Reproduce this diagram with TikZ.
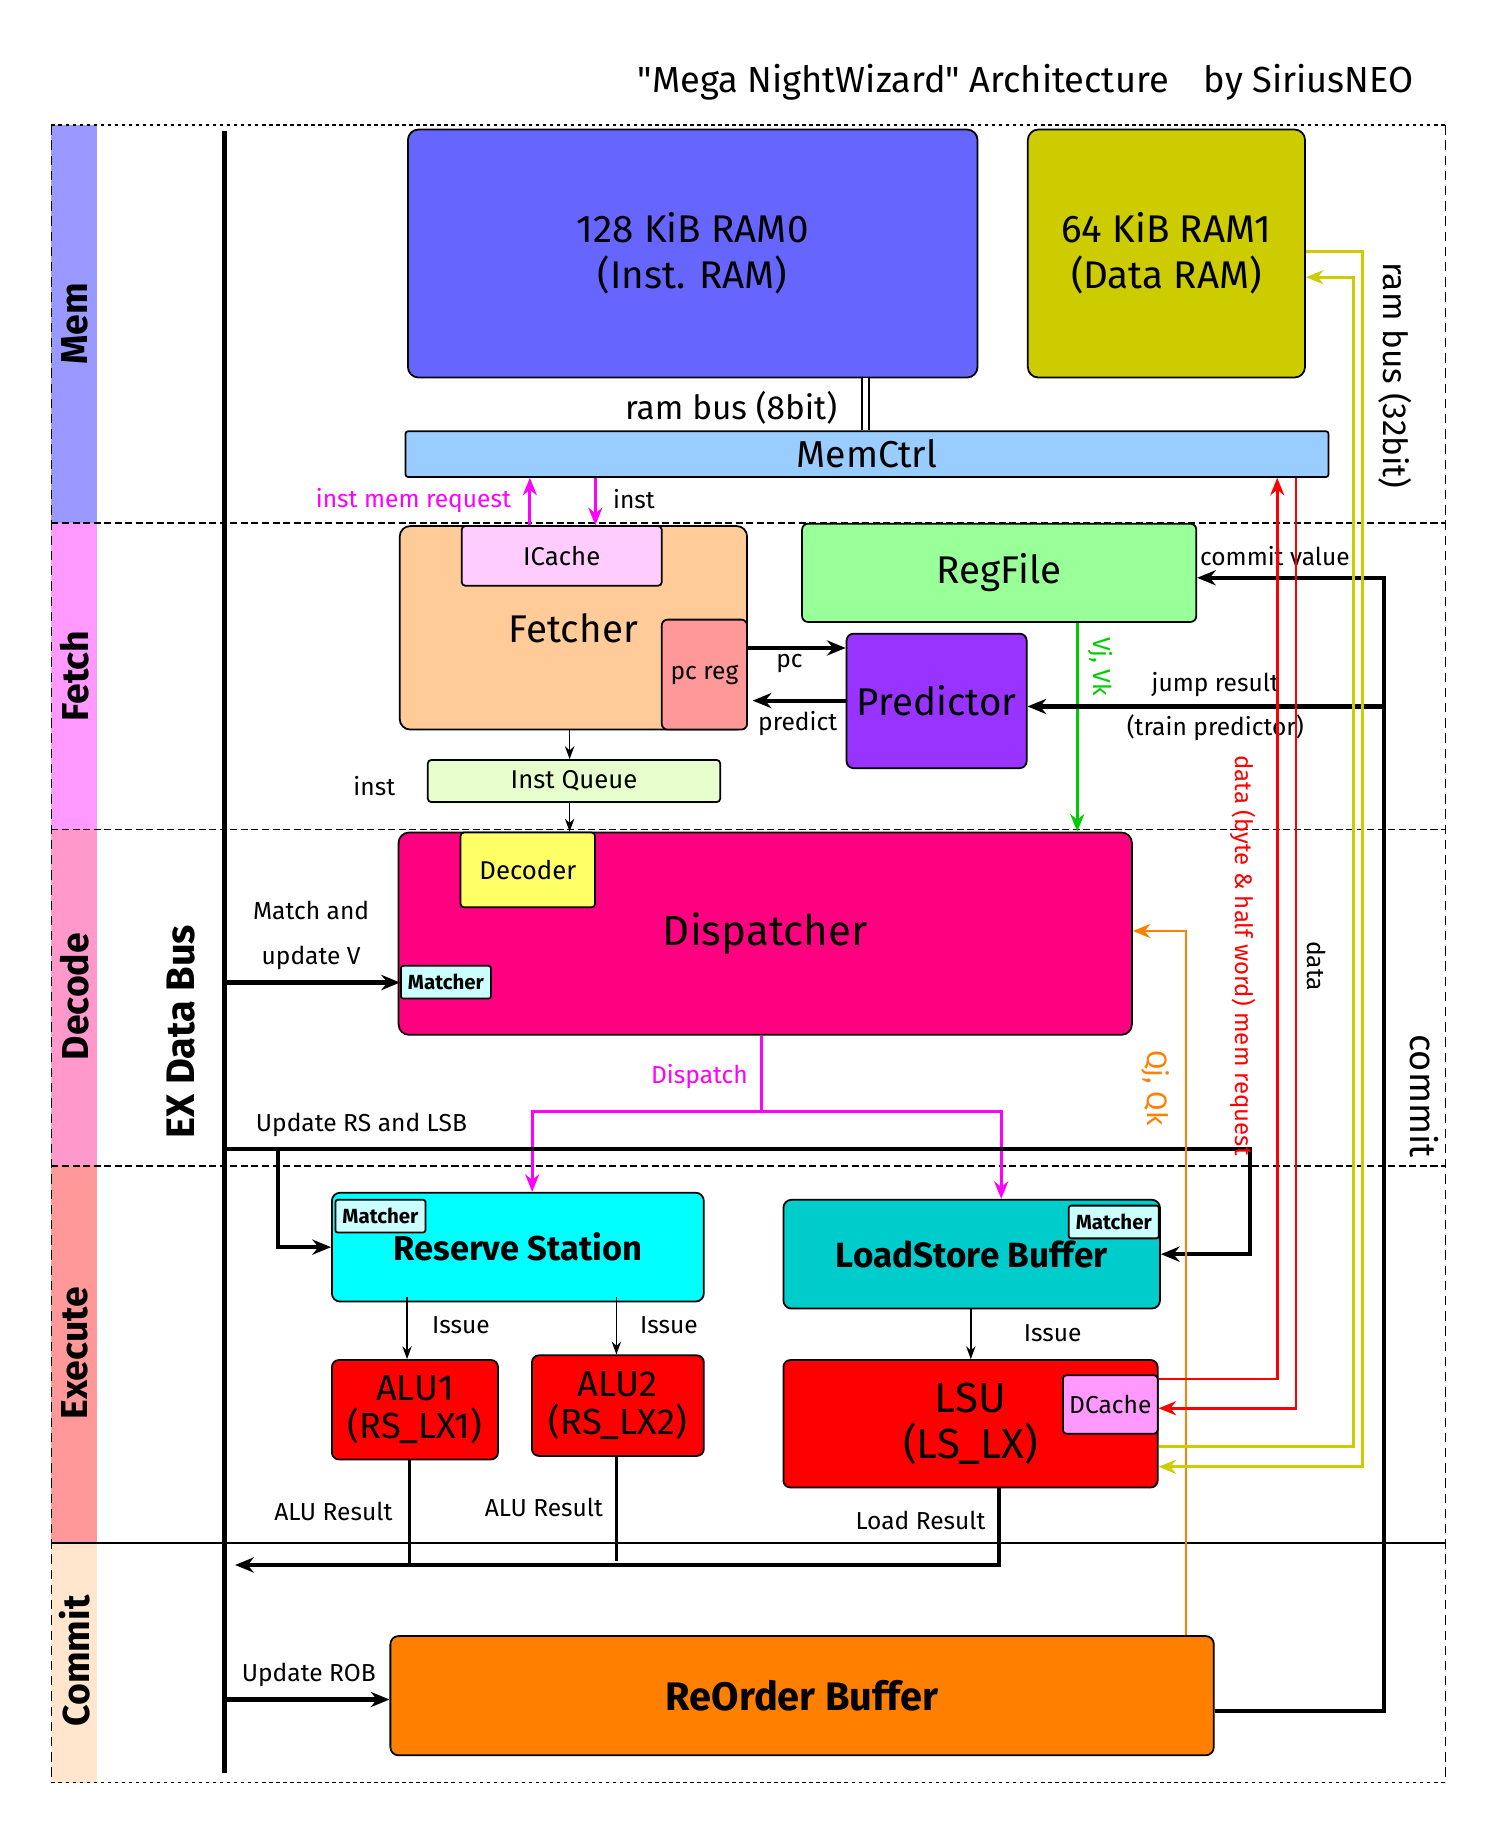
\documentclass[tikz,border=0pt]{standalone}
\usepackage{fontspec}
\setmainfont{Fira Sans}
\newfontfamily\qfont{Fira Sans}[Ligatures=ResetAll]
\usetikzlibrary{arrows.meta}
\newcommand\fsz[2]{\fontsize{#1}{#2}\selectfont}
\newcommand\sq{{\qfont\symbol{34}}}
\definecolor{cram0}{HTML}{6666FF}
\definecolor{cram1}{HTML}{CCCC00}
\definecolor{cmem}{HTML}{99CCFF}
\definecolor{cfet}{HTML}{FFCC99}
\definecolor{cicache}{HTML}{FFCCFF}
\definecolor{cpc}{HTML}{FF9999}
\definecolor{creg}{HTML}{99FF99}
\definecolor{cpred}{HTML}{9933FF}
\definecolor{ciq}{HTML}{E6FFCC}
\definecolor{cdisp}{HTML}{FF0080}
\definecolor{cdec}{HTML}{FFFF66}
\definecolor{cmatch}{HTML}{CCFFFF}
\definecolor{crs}{HTML}{00FFFF}
\definecolor{clsb}{HTML}{00CCCC}
\definecolor{calu}{HTML}{FF0000}
\definecolor{cdcache}{HTML}{FF99FF}
\definecolor{crob}{HTML}{FF8000}
\definecolor{lmem}{HTML}{9999FF}
\definecolor{lfet}{HTML}{FF99FF}
\definecolor{ldec}{HTML}{FF99CC}
\definecolor{lexe}{HTML}{FF9999}
\definecolor{lcom}{HTML}{FFE6CC}
\definecolor{cmag}{HTML}{FF00FF}
\definecolor{cgreen}{HTML}{00CC00}
\definecolor{corange}{HTML}{FF8000}
\definecolor{cyel}{HTML}{CCCC00}
\definecolor{cred}{HTML}{FF0000}
\begin{document}
\begin{tikzpicture}[x=1pt,y=-1pt,
  blk/.style={draw=black, line width=1.5pt, rounded corners=9pt, anchor=north west,
    inner sep=0pt, align=center, font=\fsz{33}{39}},
  sub/.style={blk, rounded corners=3pt, font=\fsz{22}{25}},
  mt/.style={blk, rounded corners=2pt, fill=cmatch, minimum width=77pt, minimum height=28pt, font=\fsz{17.5}{20}\bfseries},
  lbl/.style={inner sep=0pt, font=\fsz{21}{24}},
  lane/.style={inner sep=0pt, rotate=90, font=\fsz{32}{36}\bfseries},
  thkarr/.style={line width=3.5pt, -{Stealth[length=16pt,width=13pt]}},
  thinarr/.style={line width=1.3pt, -{Stealth[length=11pt,width=8pt]}},
  colarr/.style={line width=2.5pt, -{Stealth[length=15pt,width=12pt]}},
  sepline/.style={line width=1.3pt, dash pattern=on 6pt off 3pt},
]
\useasboundingbox (0,0) rectangle (1288,1568);

% title
\node[inner sep=0pt, font=\fsz{31}{34}] (title) at (877,70) {\sq Mega NightWizard\sq{} Architecture\hspace{30pt}by SiriusNEO};

% lanes
\fill[lmem] (44,107) rectangle (83,447);
\fill[lfet] (44,447) rectangle (83,709);
\fill[ldec] (44,709) rectangle (83,997);
\fill[lexe] (44,997) rectangle (83,1319);
\fill[lcom] (44,1319) rectangle (83,1524);
\node[lane] (lmemt) at (64,277) {Mem};
\node[lane] (lfett) at (64,578) {Fetch};
\node[lane] (ldect) at (64,852) {Decode};
\node[lane] (lexet) at (64,1157) {Execute};
\node[lane] (lcomt) at (64,1420) {Commit};
\draw[line width=1.4pt, dash pattern=on 3pt off 3pt] (44,107) -- (1236,107);
\draw[line width=1.4pt, dash pattern=on 3pt off 3pt] (44,1524) -- (1236,1524);
\draw[line width=1.3pt, dash pattern=on 8pt off 5pt] (44,107) -- (44,1524);
\draw[line width=1.3pt, dash pattern=on 8pt off 5pt] (1236,107) -- (1236,1524);
\draw[sepline] (44,447) -- (1236,447);
\draw[sepline] (44,709) -- (1236,709);
\draw[sepline] (44,997) -- (1236,997);
\draw[line width=1.5pt] (44,1319) -- (1236,1319);

% EX data bus
\coordinate (bustop) at (192,112);
\coordinate (busbot) at (192,1516);
\draw[line width=5pt] (bustop) -- (busbot);
\node[inner sep=0pt, rotate=90, font=\fsz{34}{38}\bfseries] (bust) at (155,882) {EX Data Bus};

% Mem
\node[blk, fill=cram0, minimum width=487pt, minimum height=212pt] (ram0) at (348,110) {128 KiB RAM0\\(Inst. RAM)};
\node[blk, fill=cram1, minimum width=237pt, minimum height=212pt] (ram1) at (878,110) {64 KiB RAM1\\(Data RAM)};
\node[blk, rounded corners=2pt, fill=cmem, minimum width=789pt, minimum height=39pt, font=\fsz{32}{36}] (memctrl) at (346,368) {MemCtrl};
\draw[double, double distance=4pt, line width=1.5pt] (740,0 |- ram0.south) -- (740,0 |- memctrl.north);
\node[lbl, font=\fsz{28.5}{32}] (rb8) at (625,349) {ram bus (8bit)};

% Fetch
\node[blk, fill=cfet, minimum width=297pt, minimum height=174pt] (fetcher) at (341,449) {Fetcher};
\node[sub, fill=cicache, minimum width=171pt, minimum height=51pt] (icache) at (394,449) {ICache};
\node[sub, fill=cpc, minimum width=73pt, minimum height=94pt, rounded corners=5pt, font=\fsz{21}{24}] (pcreg) at (565,529) {pc reg};
\node[blk, rounded corners=5pt, fill=creg, minimum width=337pt, minimum height=84pt] (regfile) at (685,447) {RegFile};
\node[blk, rounded corners=6pt, fill=cpred, minimum width=154pt, minimum height=115pt] (pred) at (723,541) {Predictor};
\node[sub, fill=ciq, minimum width=250pt, minimum height=36pt] (iq) at (365,649) {Inst Queue};

\draw[colarr, cmag] (453,0 |- fetcher.north) -- (453,0 |- memctrl.south);
\draw[colarr, cmag] (509,0 |- memctrl.south) -- (509,0 |- icache.north);
\node[lbl, anchor=east, text=cmag] (imr) at (437,428) {inst mem request};
\node[lbl, anchor=west] (instl1) at (524,427) {inst};

\draw[thkarr] (pcreg.east |- 0,554) -- (pred.west |- 0,554);
\draw[thkarr] (pred.west |- 0,599) -- ([xshift=4pt]pcreg.east |- 0,599);
\node[lbl] (pcl) at (675,567) {pc};
\node[lbl] (predl) at (682,619) {predict};

\draw[thinarr] (487,0 |- fetcher.south) -- (487,0 |- iq.north);
\node[lbl] (instl2) at (320,672) {inst};

% Decode
\node[blk, fill=cdisp, minimum width=627pt, minimum height=173pt, font=\fsz{36}{40}] (disp) at (340,711) {Dispatcher};
\node[sub, fill=cdec, minimum width=115pt, minimum height=64pt] (dec) at (393,711) {Decoder};
\node[mt] (m1) at (342,825) {Matcher};
\draw[thinarr] (487,0 |- iq.south) -- (487,0 |- disp.north);

\draw[colarr, cgreen] (921,0 |- regfile.south) -- (921,0 |- disp.north);
\node[lbl, rotate=-90, text=cgreen] (vjvk) at (941,570) {Vj, Vk};

\draw[thkarr] (bustop |- 0,840) -- (m1.west |- 0,840);
\node[lbl] (mal1) at (266,778) {Match and};
\node[lbl] (mal2) at (266,819) {update V};

% Execute
\node[blk, rounded corners=7pt, fill=crs, minimum width=318pt, minimum height=93pt, font=\fsz{29.5}{34}\bfseries] (rs) at (283,1019) {Reserve Station};
\node[mt] (m2) at (286,1025) {Matcher};
\node[blk, rounded corners=7pt, fill=clsb, minimum width=322pt, minimum height=93pt, font=\fsz{30}{34}\bfseries] (lsb) at (669,1025) {LoadStore Buffer};
\node[mt] (m3) at (913,1030) {Matcher};
\node[blk, rounded corners=6pt, fill=calu, minimum width=142pt, minimum height=85pt, font=\fsz{31}{33}] (alu1) at (283,1162) {ALU1\\(RS\_LX1)};
\node[blk, rounded corners=6pt, fill=calu, minimum width=147pt, minimum height=86pt, font=\fsz{31}{33}] (alu2) at (454,1158) {ALU2\\(RS\_LX2)};
\node[blk, rounded corners=6pt, fill=calu, minimum width=320pt, minimum height=109pt, font=\fsz{36}{40}] (lsu) at (669,1162) {LSU\\(LS\_LX)};
\node[sub, fill=cdcache, minimum width=81pt, minimum height=50pt, font=\fsz{21}{24}] (dcache) at (908,1175) {DCache};

% Dispatch
\coordinate (dsp) at (651,950);
\draw[line width=2.5pt, cmag] (651,0 |- disp.south) -- (dsp);
\draw[colarr, cmag] (dsp) -| (455,0 |- rs.north);
\draw[colarr, cmag] (dsp) -| (856,0 |- lsb.north);
\node[lbl, text=cmag] (dspl) at (598,920) {Dispatch};

% Update RS and LSB
\coordinate (ursj) at (238,982);
\draw[thkarr] (bustop |- 0,982) -- (1069,982) |- (lsb.east);
\draw[thkarr] (ursj) |- (rs.west);
\node[lbl] (ursl) at (309,962) {Update RS and LSB};

% Issue
\draw[thinarr] (348,1109) -- (348,0 |- alu1.north);
\draw[thinarr] (527,1109) -- (527,0 |- alu2.north);
\draw[thinarr] (830,0 |- lsb.south) -- (830,0 |- lsu.north);
\node[lbl] (is1) at (394,1133) {Issue};
\node[lbl] (is2) at (572,1133) {Issue};
\node[lbl] (is3) at (900,1140) {Issue};

% results
\coordinate (resend) at (201,1338);
\draw[line width=2pt] (350,0 |- alu1.south) -- (350,1338);
\draw[line width=2pt] (527,0 |- alu2.south) -- (527,1335);
\draw[thkarr] (854,0 |- lsu.south) -- (854,1338) -- (resend);
\node[lbl] (ar1) at (285,1292) {ALU Result};
\node[lbl] (ar2) at (465,1289) {ALU Result};
\node[lbl] (lr) at (787,1300) {Load Result};

% Commit
\node[blk, rounded corners=7pt, fill=crob, minimum width=704pt, minimum height=102pt, font=\fsz{34}{38}\bfseries] (rob) at (333,1398) {ReOrder Buffer};
\draw[thkarr] (bustop |- 0,1453) -- (rob.west |- 0,1453);
\node[lbl] (urob) at (264,1432) {Update ROB};

% commit path
\coordinate (ctop) at (1183,494);
\coordinate (cjmp) at (1183,604);
\draw[thkarr] (rob.east |- 0,1463) -| (ctop) -- (regfile.east |- ctop);
\draw[thkarr] (cjmp) -- (pred.east |- cjmp);
\node[lbl] (cvl) at (1090,475) {commit value};
\node[lbl] (jrl) at (1039,585) {jump result};
\node[lbl] (tpl) at (1039,622) {(train predictor)};
\node[inner sep=0pt, rotate=-90, font=\fsz{31}{34}] (commitl) at (1218,937) {commit};

% orange Qj Qk
\draw[line width=2pt, corange, -{Stealth[length=15pt,width=12pt]}] (1014,0 |- rob.north) -- (1014,796) -- (disp.east |- 0,796);
\node[lbl, rotate=-90, text=corange, font=\fsz{24}{26}] (qjqk) at (988,930) {Qj, Qk};

% red data lines
\draw[colarr, cred] (lsu.east |- 0,1179) -| (1092,0 |- memctrl.south);
\draw[colarr, cred] (1108,0 |- memctrl.south) |- (dcache.east |- 0,1204);
\node[lbl, rotate=-90, text=cred, font=\fsz{20.5}{22}] (memreq) at (1063,817) {data (byte \& half word) mem request};
\node[lbl, rotate=-90] (datal) at (1126,826) {data};

% yellow ram bus
\draw[colarr, cyel] (ram1.east |- 0,215) -- (1165,215) -- (1165,1254) -- (lsu.east |- 0,1254);
\draw[colarr, cyel] (lsu.east |- 0,1237) -- (1157,1237) -- (1157,237) -- (ram1.east |- 0,237);
\node[lbl, rotate=-90, font=\fsz{28.5}{32}] (rb32) at (1193,321) {ram bus (32bit)};
\end{tikzpicture}
\end{document}
